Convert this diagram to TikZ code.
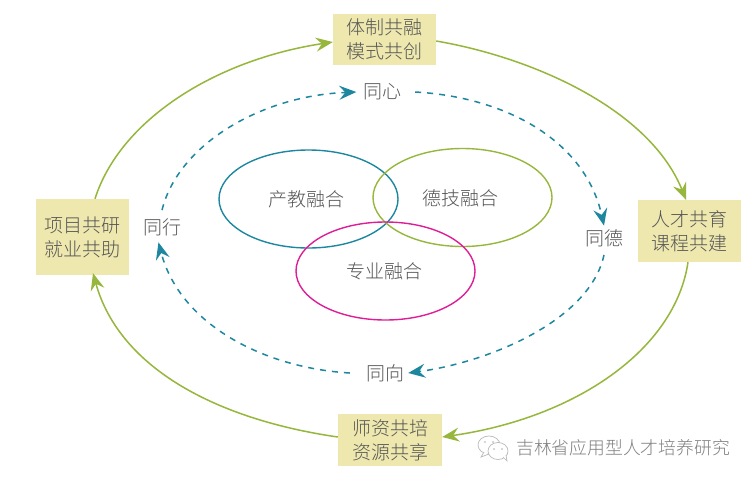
\documentclass[tikz,border=0pt]{standalone}
\usepackage{fontspec}
\setmainfont{Noto Sans CJK SC}
\newfontfamily\cjkthin{Noto Sans CJK SC Light}
\usetikzlibrary{arrows.meta}
\definecolor{boxfill}{RGB}{238,232,175}
\definecolor{leaf}{RGB}{150,183,60}
\definecolor{tealc}{RGB}{30,135,160}
\definecolor{pinkc}{RGB}{222,30,150}
\definecolor{txt}{RGB}{85,85,85}
\tikzset{
  x=1pt,y=-1pt,
  panel/.style={fill=boxfill,draw=none,inner sep=0pt,align=center,text=txt,font=\cjkthin\fontsize{19}{24}\selectfont},
  lab/.style={inner sep=0pt,text=txt,font=\cjkthin\fontsize{19}{23}\selectfont},
  outer/.style={draw=leaf,line width=1.5pt,-{Stealth[length=17pt,width=14pt,inset=6pt]}},
  inner/.style={draw=tealc,line width=1.5pt,dash pattern=on 6pt off 6pt,-{Stealth[length=17pt,width=14pt,inset=6pt,sep=0pt]}},
  icon/.style={draw=gray!55,fill=white,line width=.7pt},
}
\begin{document}
\begin{tikzpicture}
\useasboundingbox[fill=white] (0,0) rectangle (755,482);
\node[panel,minimum width=103pt,minimum height=51pt] (top) at (384.5,39.5) {体制共融\\模式共创};
\node[panel,minimum width=93pt,minimum height=76pt] (left) at (82.5,237) {项目共研\\就业共助};
\node[panel,minimum width=103pt,minimum height=62pt] (right) at (689.5,231) {人才共育\\课程共建};
\node[panel,minimum width=104pt,minimum height=52pt] (bottom) at (390,440) {师资共培\\资源共享};
\node[lab] (xin) at (382,92) {同心};
\node[lab] (de) at (604,238) {同德};
\node[lab] (xiang) at (385,373) {同向};
\node[lab] (xing) at (162,227) {同行};
\draw[tealc,line width=1.4pt] (308.5,199) ellipse [x radius=89.5,y radius=49];
\draw[leaf,line width=1.4pt] (462.5,197.5) ellipse [x radius=89.5,y radius=49];
\draw[pinkc,line width=1.4pt] (385.5,271) ellipse [x radius=89.5,y radius=49];
\node[lab] (c1) at (306,199) {产教融合};
\node[lab] (c2) at (460,198) {德技融合};
\node[lab] (c3) at (384,271) {专业融合};
\draw[outer] ([xshift=12.5pt]left.north) .. controls (120,120) and (215,60) .. ([yshift=-2.5pt]top.west);
\draw[outer] ([yshift=-1.5pt]top.east) .. controls (535,58) and (650,110) .. ([xshift=-3.5pt]right.north);
\draw[outer] ([xshift=-1.5pt]right.south) .. controls (675,350) and (575,418) .. ([yshift=3pt]bottom.east);
\draw[outer] ([yshift=3pt]bottom.west) .. controls (220,420) and (120,370) .. ([xshift=10.5pt,yshift=2pt]left.south);
\draw[inner] ([yshift=8pt]xing.north) .. controls (178,145) and (260,96) .. ([xshift=-6.5pt]xin.west);
\draw[inner] ([xshift=14pt]xin.east) .. controls (505,97) and (585,140) .. ([yshift=3.5pt]de.north);
\draw[inner] ([yshift=-8pt]de.south) .. controls (590,320) and (490,362) .. ([xshift=4pt]xiang.east);
\draw[inner] ([xshift=-16pt]xiang.west) .. controls (265,368) and (180,325) .. ([xshift=-3.5pt,yshift=-6.5pt]xing.south);
\node[lab,text=gray,font=\cjkthin\fontsize{17.8}{20}\selectfont] (wm) at (623,448) {吉林省应用型人才培养研究};
\draw[icon] (489,445) ellipse [x radius=11,y radius=9];
\draw[icon] (484,452) -- (481,457) -- (489,454);
\fill[gray!60] (485,442) circle (.9pt) (493,442) circle (.9pt);
\draw[icon] (498,451) ellipse [x radius=10,y radius=8.5];
\draw[icon] (503,457) -- (507,461) -- (506,455);
\fill[gray!60] (494,449) circle (.9pt) (502,449) circle (.9pt);
\end{tikzpicture}
\end{document}
